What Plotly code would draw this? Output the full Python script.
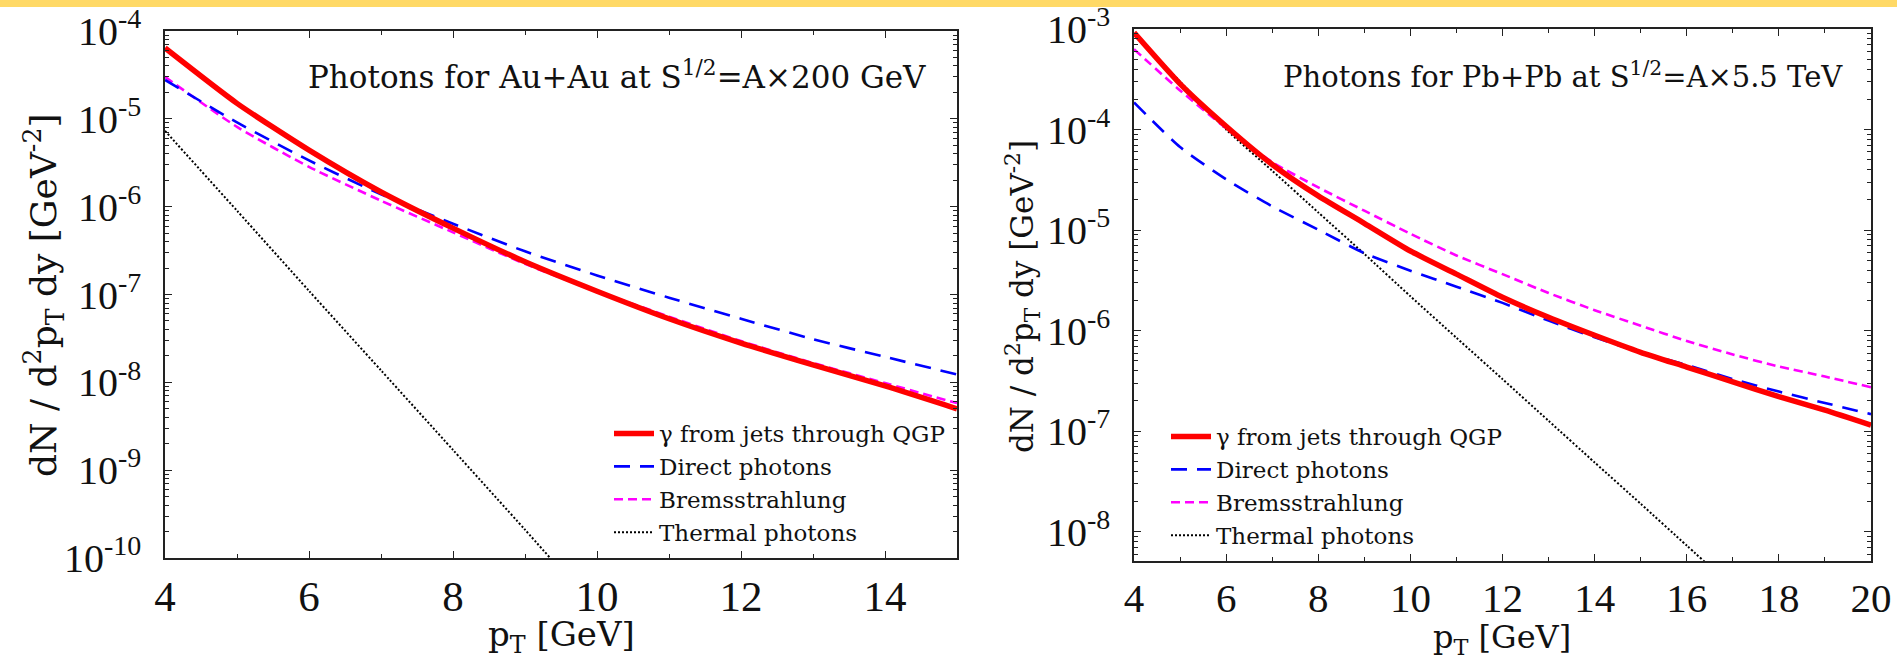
import plotly.graph_objects as go

W, H = 1897, 662
FONT = "Liberation Serif"
TFONT = "DejaVu Serif"

# ---------------- data: Au+Au at 200 GeV ----------------
pt_au = [4, 5, 6, 7, 8, 9, 10, 11, 12, 13, 14, 15]
au_jets_qgp = [6.4e-5, 1.5e-5, 4.4e-6, 1.47e-6, 5.7e-7, 2.36e-7, 1.09e-7, 5.3e-8, 2.8e-8, 1.58e-8, 9.1e-9, 5.0e-9]
au_direct = [2.77e-5, 9.1e-6, 3.36e-6, 1.38e-6, 6.4e-7, 3.1e-7, 1.65e-7, 9.2e-8, 5.3e-8, 3.1e-8, 1.95e-8, 1.23e-8]
au_brems = [3.0e-5, 8.1e-6, 2.84e-6, 1.17e-6, 5.1e-7, 2.23e-7, 1.09e-7, 5.6e-8, 2.95e-8, 1.66e-8, 9.8e-9, 5.8e-9]
pt_au_thermal = [4, 5, 6, 7, 8, 9, 10]
au_thermal = [7.3e-6, 9.0e-7, 1.1e-7, 1.37e-8, 1.7e-9, 2.1e-10, 2.5e-11]

# ---------------- data: Pb+Pb at 5.5 TeV ----------------
pt_pb = [4, 5, 6, 7, 8, 9, 10, 11, 12, 13, 14, 15, 16, 17, 18, 19, 20]
pb_jets_qgp = [9.2e-4, 2.85e-4, 1.08e-4, 4.5e-5, 2.19e-5, 1.17e-5, 6.2e-6, 3.65e-6, 2.15e-6, 1.36e-6,
               9.0e-7, 6.1e-7, 4.35e-7, 3.1e-7, 2.21e-7, 1.62e-7, 1.15e-7]
pb_direct = [1.86e-4, 6.7e-5, 3.2e-5, 1.72e-5, 1.01e-5, 5.9e-6, 3.95e-6, 2.74e-6, 1.89e-6, 1.26e-6,
             8.6e-7, 6.1e-7, 4.57e-7, 3.3e-7, 2.48e-7, 1.91e-7, 1.48e-7]
pb_brems = [6.3e-4, 2.45e-4, 1.03e-4, 4.75e-5, 2.66e-5, 1.56e-5, 9.2e-6, 5.6e-6, 3.65e-6, 2.37e-6,
            1.6e-6, 1.12e-6, 7.9e-7, 5.8e-7, 4.4e-7, 3.5e-7, 2.74e-7]
pt_pb_thermal = [4, 5, 6, 7, 8, 9, 10, 11, 12, 13, 14, 15, 16, 17]
pb_thermal = [9.0e-4, 3.0e-4, 1.0e-4, 3.9e-5, 1.5e-5, 5.8e-6, 2.2e-6, 8.5e-7, 3.3e-7, 1.27e-7,
              4.9e-8, 1.9e-8, 7.3e-9, 2.8e-9]

# ---------------- labels ----------------
names = ["\u03b3 from jets through QGP", "Direct photons", "Bremsstrahlung", "Thermal photons"]
title_au = "Photons for Au+Au at S<sup>1/2</sup>=A\u00d7200 GeV"
title_pb = "Photons for Pb+Pb at S<sup>1/2</sup>=A\u00d75.5 TeV"
x_title = "p<sub>T</sub> [GeV]"
y_title = "dN / d<sup>2</sup>p<sub>T</sub> dy [GeV<sup>-2</sup>]"
x_ticks_au = [4, 6, 8, 10, 12, 14]
x_ticks_pb = [4, 6, 8, 10, 12, 14, 16, 18, 20]
y_exp_au = [-10, -9, -8, -7, -6, -5, -4]
y_exp_pb = [-8, -7, -6, -5, -4, -3]

styles = [
    dict(color="#ff0000", width=5.5, dash="solid"),
    dict(color="#0000ff", width=2.6, dash="16px,10px"),
    dict(color="#ff00ff", width=2.6, dash="9px,5px"),
    dict(color="#000000", width=2.0, dash="2px,2px"),
]

def px(x):
    return x / W

def py(y):
    return 1 - y / H

fig = go.Figure()

def add_set(xs, series, xaxis, yaxis, legend):
    for i in [3, 2, 1, 0]:
        fig.add_trace(go.Scatter(
            x=xs[i], y=series[i], mode="lines", name=names[i],
            line=dict(**styles[i], shape="spline", smoothing=0.6),
            xaxis=xaxis, yaxis=yaxis, legend=legend, legendrank=i + 1,
        ))

add_set([pt_au, pt_au, pt_au, pt_au_thermal], [au_jets_qgp, au_direct, au_brems, au_thermal], "x", "y", "legend")
add_set([pt_pb, pt_pb, pt_pb, pt_pb_thermal], [pb_jets_qgp, pb_direct, pb_brems, pb_thermal], "x2", "y2", "legend2")

def minor_log(exps):
    vals = []
    for e in range(min(exps) - 1, max(exps) + 1):
        for m in range(2, 10):
            vals.append(m * 10 ** e)
    return vals

axis_common = dict(
    showline=True, linecolor="#222222", linewidth=1.5, mirror="ticks",
    ticks="inside", ticklen=7, tickwidth=1.2, tickcolor="#222222",
    showgrid=False, zeroline=False, automargin=False,
)
minor_common = dict(ticklen=4, ticks="inside", tickcolor="#222222", tickwidth=1)

fig.update_layout(
    width=W, height=H, margin=dict(l=0, r=0, t=0, b=0),
    template="none", paper_bgcolor="white", plot_bgcolor="white",
    font=dict(family=FONT, color="#111111"),
    xaxis=dict(domain=[px(165), px(957)], range=[4, 15], tickvals=x_ticks_au,
               tickfont=dict(size=43, family=FONT), ticklabelstandoff=0,
               minor=dict(tickvals=[5, 7, 9, 11, 13, 15], **minor_common),
               anchor="y", **axis_common),
    yaxis=dict(domain=[py(558), py(31)], type="log", range=[-10, -4],
               tickvals=[10 ** e for e in y_exp_au],
               ticktext=["10<sup>%d</sup>" % e for e in y_exp_au],
               tickfont=dict(size=40, family=FONT), ticklabelstandoff=14,
               minor=dict(tickvals=minor_log(y_exp_au), **minor_common),
               anchor="x", **axis_common),
    xaxis2=dict(domain=[px(1134), px(1871)], range=[4, 20], tickvals=x_ticks_pb,
                tickfont=dict(size=41, family=FONT), ticklabelstandoff=0,
                minor=dict(tickvals=[5, 7, 9, 11, 13, 15, 17, 19], **minor_common),
                anchor="y2", **axis_common),
    yaxis2=dict(domain=[py(561), py(29)], type="log", range=[-8.29, -3],
                tickvals=[10 ** e for e in y_exp_pb],
                ticktext=["10<sup>%d</sup>" % e for e in y_exp_pb],
                tickfont=dict(size=40, family=FONT), ticklabelstandoff=14,
                minor=dict(tickvals=minor_log(y_exp_pb), **minor_common),
                anchor="x2", **axis_common),
    legend=dict(x=px(609), y=py(412), xanchor="left", yanchor="top", bgcolor="rgba(0,0,0,0)",
                font=dict(size=23, family=TFONT), tracegroupgap=0, itemwidth=40),
    legend2=dict(x=px(1166), y=py(415), xanchor="left", yanchor="top", bgcolor="rgba(0,0,0,0)",
                 font=dict(size=23, family=TFONT), tracegroupgap=0, itemwidth=40),
    showlegend=True,
)

fig.add_shape(type="rect", xref="paper", yref="paper", x0=0, x1=1, y0=py(7), y1=1,
              fillcolor="#ffd966", line=dict(width=0), layer="above")

ann = [
    dict(text=title_au, x=px(928), y=py(75), xanchor="right", yanchor="middle", font=dict(size=31)),
    dict(text=title_pb, x=px(1845), y=py(75), xanchor="right", yanchor="middle", font=dict(size=29)),
    dict(text=x_title, x=px(561), y=py(636), xanchor="center", yanchor="middle", font=dict(size=34)),
    dict(text=x_title, x=px(1502), y=py(639), xanchor="center", yanchor="middle", font=dict(size=32)),
    dict(text=y_title, x=px(44), y=py(296), xanchor="center", yanchor="middle", textangle=-90, font=dict(size=36)),
    dict(text=y_title, x=px(1022), y=py(297), xanchor="center", yanchor="middle", textangle=-90, font=dict(size=31)),
]
for a in ann:
    a.update(xref="paper", yref="paper", showarrow=False)
    a["font"]["family"] = TFONT
    a["font"]["color"] = "#111111"
    fig.add_annotation(**a)

fig.write_html("out.html")
